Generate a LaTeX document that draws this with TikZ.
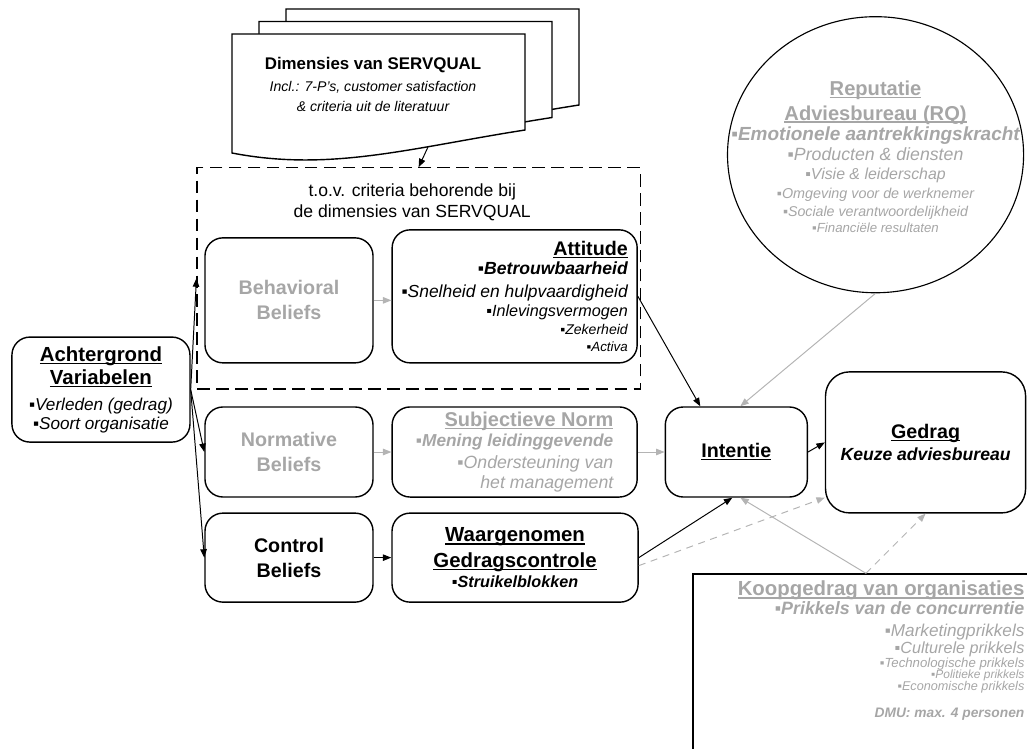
\documentclass[tikz,border=0pt]{standalone}
\usepackage{fontspec}
\setmainfont{Liberation Sans}
\usetikzlibrary{positioning,shapes.geometric,arrows.meta}
\definecolor{softgray}{RGB}{166,166,166}
\definecolor{linegray}{RGB}{180,180,180}
\newcommand{\fsz}[1]{\fontsize{#1}{#1}\selectfont}
\newcommand{\noskip}{\baselineskip=0pt\lineskip=0pt\lineskiplimit=-\maxdimen}
\newcommand{\uln}[1]{\setbox0=\hbox{#1}\leavevmode\rlap{\rule[-1.8pt]{\wd0}{0.8pt}}\box0}

\tikzstyle{box} = [rectangle, rounded corners=0.45cm, draw=black, line width=1pt, align=center]
\tikzstyle{beliefbox} = [box, minimum width=4.2cm, font=\bfseries\fsz{14}\noskip]
\tikzstyle{normbox} = [box, minimum width=6.125cm, align=right, font=\fsz{12.4}\noskip]
\tikzstyle{docpage} = [draw=black, line width=1pt, fill=white]
\tikzstyle{arrow} = [line width=0.7pt, -{Triangle[length=6pt,width=4.6pt]}]
\tikzstyle{arrow-grey} = [arrow, draw=linegray]
\tikzstyle{arrow-dash} = [arrow-grey, dash pattern=on 5pt off 4pt]

\begin{document}
\begin{tikzpicture}[x=0.025cm, y=-0.025cm]
  \useasboundingbox (0,0) rectangle (1027,749);
  \clip (0,0) rectangle (1027,749);

  \foreach \s in {2,1,0}
    \draw [docpage, shift={(27*\s,-12.5*\s)}] (232,34) -- (525,34) -- (525,130) .. controls (410,148) and (330,172) .. (232,153) -- cycle;
  \coordinate (docfoot) at (428,147);

  \node (normb) [beliefbox, text=softgray, minimum height=2.25cm] at (289,452) {Normative\\[17.7pt]Beliefs};
  \node (behb) [beliefbox, text=softgray, minimum height=3.125cm, above of=normb, yshift=2.79cm] {Behavioral\\[17.7pt]Beliefs};
  \node (contb) [beliefbox, minimum height=2.225cm, below of=normb, yshift=-1.64cm] {Control\\[17.7pt]Beliefs};
  \node (subjn) [normbox, text=softgray, minimum height=2.25cm, right of=normb, xshift=4.64cm] {{\fsz{14.2}\bfseries\uln{Subjectieve Norm}}\\[14.2pt]{\bfseries\itshape\fsz{12.3}▪Mening leidinggevende}\\[16.1pt]{\itshape\fsz{12.6}▪Ondersteuning van}\\[14.2pt]{\itshape\fsz{12.6}het management}};
  \node (att) [normbox, minimum height=3.325cm, right of=behb, xshift=4.64cm, yshift=0.1cm] {{\fsz{14}\bfseries\uln{Attitude}}\\[13.7pt]{\bfseries\itshape\fsz{12.5}▪Betrouwbaarheid}\\[15.8pt]{\itshape ▪Snelheid en hulpvaardigheid}\\[13.5pt]{\itshape\fsz{11.5}▪Inlevingsvermogen}\\[13.3pt]{\itshape\fsz{10}▪Zekerheid}\\[11.8pt]{\itshape\fsz{9.5}▪Activa}};
  \node (waarg) [box, minimum width=6.15cm, minimum height=2.225cm, font=\bfseries\fsz{14.5}\noskip, right of=contb, xshift=4.65cm] {\uln{Waargenomen}\\[18.4pt]\uln{Gedragscontrole}\\[13.7pt]{\itshape\fsz{11.5}▪Struikelblokken}};
  \node (intentie) [box, minimum width=3.55cm, minimum height=2.25cm, font=\bfseries\fsz{14}\noskip, right of=subjn, xshift=4.54cm] {\uln{Intentie}};
  \node (gedrag) [box, rounded corners=0.6cm, minimum width=5cm, minimum height=3.525cm, font=\bfseries\fsz{14}\noskip, right of=intentie, xshift=3.73cm, yshift=0.24cm] {\uln{Gedrag}\\[15.1pt]{\itshape\fsz{12.5}Keuze adviesbureau}};
  \node (achter) [box, minimum width=4.45cm, minimum height=2.625cm, font=\fsz{14.5}\noskip, left of=normb, xshift=-3.7cm, yshift=1.56cm] {{\bfseries\uln{Achtergrond}}\\[16.6pt]{\bfseries\uln{Variabelen}}\\[18pt]{\itshape\fsz{12.2}▪Verleden (gedrag)}\\[13.5pt]{\itshape\fsz{12.2}▪Soort organisatie}};
  \node (rep) [ellipse, draw=black, line width=0.8pt, minimum width=7.4cm, minimum height=6.9cm, inner sep=0pt, above of=gedrag, xshift=-1.25cm, yshift=6.19cm] {};
  \node (reptext) [align=center, text=softgray, font=\fsz{14.3}\noskip] at ([yshift=-0.05cm]rep.center) {{\bfseries\uln{Reputatie}}\\[17.2pt]{\bfseries\uln{Adviesbureau (RQ)}}\\[14.7pt]{\bfseries\itshape\fsz{13.5}▪Emotionele aantrekkingskracht}\\[14.2pt]{\itshape\fsz{12.6}▪Producten \& diensten}\\[13.7pt]{\itshape\fsz{11.3}▪Visie \& leiderschap}\\[13.5pt]{\itshape\fsz{10.2}▪Omgeving voor de werknemer}\\[12.3pt]{\itshape\fsz{10.1}▪Sociale verantwoordelijkheid}\\[11.3pt]{\itshape\fsz{9.4}▪Financiële resultaten}};
  \node (koop) [rectangle, draw=black, line width=1pt, minimum width=8.65cm, minimum height=4.9cm, below of=gedrag, xshift=-1.49cm, yshift=-4.74cm] {};
  \node (kooptext) [anchor=north east, inner sep=0pt, align=right, text=softgray, font=\fsz{11}\noskip] at ([xshift=-0.375cm, yshift=-0.19cm]koop.north east) {{\fsz{14.5}\bfseries\uln{Koopgedrag van organisaties}}\\[13.5pt]{\fsz{12.7}\bfseries\itshape ▪Prikkels van de concurrentie}\\[15.4pt]{\fsz{12.2}\itshape ▪Marketingprikkels}\\[11.8pt]{\fsz{11.5}\itshape ▪Culturele prikkels}\\[9.9pt]{\fsz{9.4}\itshape ▪Technologische prikkels}\\[8.3pt]{\fsz{8.5}\itshape ▪Politieke prikkels}\\[8.3pt]{\fsz{9}\itshape ▪Economische prikkels}\\[18.9pt]{\fsz{9.8}\bfseries\itshape DMU: max. 4 personen}};
  \node (servq) [rectangle, draw=black, line width=0.9pt, dash pattern=on 9pt off 4.5pt, minimum width=11.075cm, minimum height=5.525cm, right of=behb, xshift=2.24cm, yshift=0.55cm] {};
  \node (crit) [align=center, font=\fsz{12.5}\noskip, above of=servq, xshift=-0.16cm, yshift=0.89cm] {t.o.v. criteria behorende bij\\[14.9pt]de dimensies van SERVQUAL};
  \node (doc) [align=center, font=\fsz{10}\noskip, above of=crit, xshift=-0.98cm, yshift=1.95cm] {{\bfseries\fsz{12}Dimensies van SERVQUAL}\\[15.9pt]{\itshape Incl.: 7-P's, customer satisfaction}\\[14.2pt]{\itshape \& criteria uit de literatuur}};

  \draw [arrow] (docfoot) -- (servq.north);
  \draw [arrow] (achter.east) -- (servq.west);
  \draw [arrow] (achter.east) -- (normb.west);
  \draw [arrow] (achter.east) -- (contb.west);
  \draw [arrow-grey] (behb.east) -- (behb.east -| att.west);
  \draw [arrow-grey] (normb.east) -- (subjn.west);
  \draw [arrow] (contb.east) -- (waarg.west);
  \draw [arrow] (att.east) -- ([xshift=-0.9cm]intentie.north);
  \draw [arrow-grey] (rep.south) -- ([xshift=0.1cm]intentie.north);
  \draw [arrow-grey] (subjn.east) -- (intentie.west);
  \draw [arrow] (waarg.east) -- ([xshift=-0.1cm]intentie.south);
  \draw [arrow-dash] ([yshift=-0.2cm]waarg.east) -- ([yshift=0.4cm]gedrag.south west);
  \draw [arrow] (intentie.east) -- (gedrag.west);
  \draw [arrow-grey] (koop.north) -- ([xshift=0.1cm]intentie.south);
  \draw [arrow-dash] (koop.north) -- (gedrag.south);
\end{tikzpicture}
\end{document}
